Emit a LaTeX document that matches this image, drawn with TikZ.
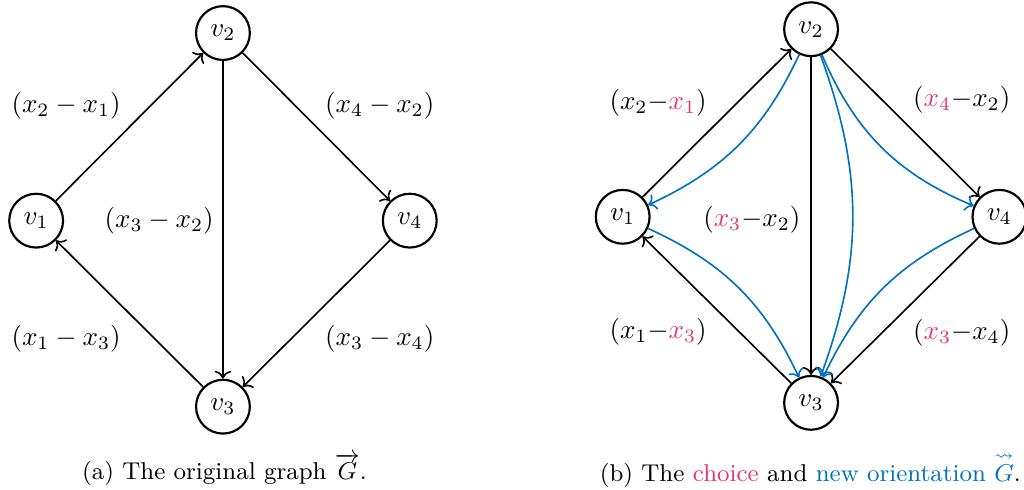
\documentclass[tikz,border=0pt]{standalone}
\usepackage{amsmath,amssymb}
\usepackage{tikz}
\usetikzlibrary{positioning,arrows.meta,calc}
\definecolor{chc}{HTML}{E8336D}
\definecolor{ori}{HTML}{0072BD}

\begin{document}
\begin{tikzpicture}[vtx/.style={draw,circle,thick,minimum size=0.7cm,inner sep=0pt},
    ed/.style={->,semithick}, ned/.style={->,semithick,ori}]
        \useasboundingbox (0,0) rectangle (13.32,6.37);
        % (a) original graph
        \node[vtx] (a2) at (2.90,5.94) {$v_2$};
        \node[vtx] (a1) at (0.47,3.50) {$v_1$};
        \node[vtx] (a4) at (5.33,3.50) {$v_4$};
        \node[vtx] (a3) at (2.90,1.08) {$v_3$};
        \draw[ed] (a1)--(a2);\draw[ed] (a2)--(a3);\draw[ed] (a2)--(a4);
        \draw[ed] (a3)--(a1);\draw[ed] (a4)--(a3);
        \node (la21) at (0.86,4.99) {$(x_2-x_1)$};
        \node (la42) at (4.94,4.99) {$(x_4-x_2)$};
        \node (la32) at (2.07,3.50) {$(x_3-x_2)$};
        \node (la13) at (0.86,1.96) {$(x_1-x_3)$};
        \node (la34) at (4.94,1.96) {$(x_3-x_4)$};
        \node (ca) at (2.92,0.26) {\small (a) The original graph $\overrightarrow{G}$.};
        % (b) choice and new orientation
        \node[vtx] (b2) at (10.55,5.99) {$v_2$};
        \node[vtx] (b1) at (8.10,3.55) {$v_1$};
        \node[vtx] (b4) at (13.00,3.55) {$v_4$};
        \node[vtx] (b3) at (10.55,1.13) {$v_3$};
        \draw[ed] (b1)--(b2);\draw[ed] (b2)--(b3);\draw[ed] (b2)--(b4);
        \draw[ed] (b3)--(b1);\draw[ed] (b4)--(b3);
        \draw[ned] (b2) to[bend left=20] (b1);
        \draw[ned] (b2) to[bend right=22] (b4);
        \draw[ned] (b2) to[bend left=20] (b3);
        \draw[ned] (b1) to[bend left=20] (b3);
        \draw[ned] (b4) to[bend right=20] (b3);
        \node (lb21) at (8.56,5.03) {$(x_2{-}\textcolor{chc}{x_1})$};
        \node (lb42) at (12.51,5.07) {$(\textcolor{chc}{x_4}{-}x_2)$};
        \node (lb32) at (9.78,3.51) {$(\textcolor{chc}{x_3}{-}x_2)$};
        \node (lb13) at (8.56,2.05) {$(x_1{-}\textcolor{chc}{x_3})$};
        \node (lb34) at (12.51,2.04) {$(\textcolor{chc}{x_3}{-}x_4)$};
        \node (cb) at (10.54,0.26) {\small (b) The \textcolor{chc}{choice} and \textcolor{ori}{new orientation $\overset{\rightsquigarrow}{G}$}.};
      \end{tikzpicture}
\end{document}
